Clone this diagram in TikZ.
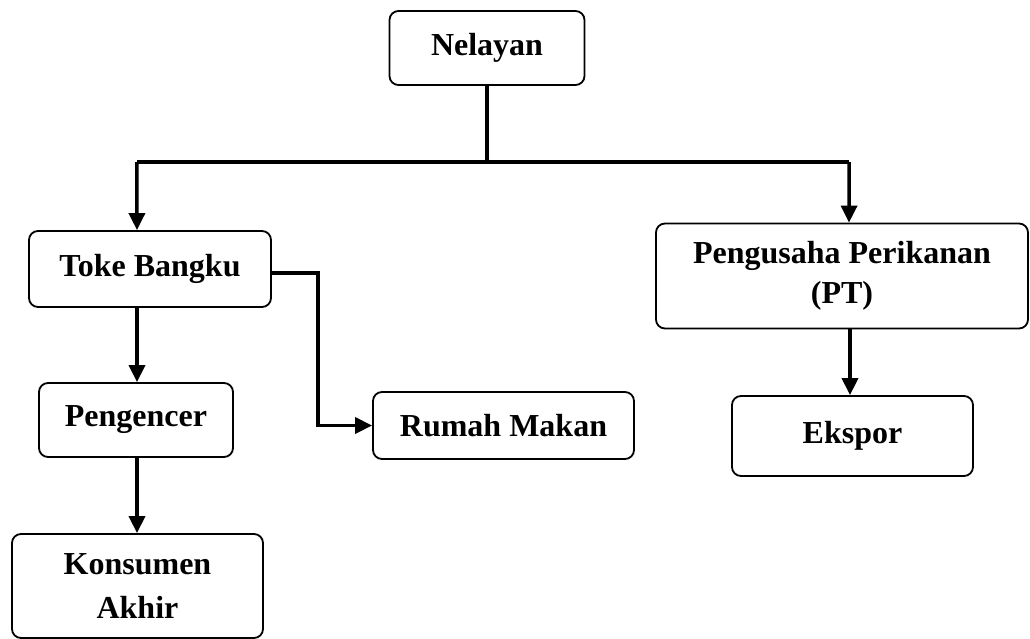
\documentclass[tikz,border=0pt]{standalone}
\usepackage{fontspec}
\setmainfont{Liberation Serif}
\usetikzlibrary{arrows.meta}
\begin{document}
\begin{tikzpicture}[x=1pt,y=1pt,
  box/.style={draw=black, line width=1.8pt, rounded corners=9pt, fill=white,
    align=center, inner sep=0pt,
    font=\fontsize{32}{42}\selectfont\bfseries},
  conn/.style={line width=3.5pt, line join=miter},
  arr/.style={conn, -{Triangle[length=17pt,width=16pt]}}]
\useasboundingbox (0,0) rectangle (1030,-639);

\node[box, minimum width=195pt, minimum height=74pt] (nel) at (487,-48) {Nelayan};
\node[box, minimum width=242pt, minimum height=76pt] (toke) at (150,-269) {Toke Bangku};
\node[box, minimum width=372pt, minimum height=105pt, font=\fontsize{32}{40}\selectfont\bfseries] (peng) at (842,-276) {Pengusaha Perikanan\\(PT)};
\node[box, minimum width=194pt, minimum height=74pt] (pengc) at (136,-420) {Pengencer};
\node[box, minimum width=261pt, minimum height=67pt] (rumah) at (503.5,-425.5) {Rumah Makan};
\node[box, minimum width=241pt, minimum height=80pt] (eks) at (852.5,-436) {Ekspor};
\node[box, minimum width=251pt, minimum height=104pt, font=\fontsize{32}{44}\selectfont\bfseries] (kons) at (137.5,-586) {Konsumen\\Akhir};

\coordinate (jL) at (137,-162);
\coordinate (jR) at (849,-162);
\coordinate (k) at (318,-273);

\draw[conn] (nel.south) -- (nel.south |- jL);
\draw[conn] (jL) -- (jR);
\draw[arr] ([xshift=-0.2pt]jL) -- (jL |- toke.north);
\draw[arr] ([xshift=0.2pt]jR) -- (jR |- peng.north);
\draw[arr] (toke.east |- k) -- (k) -- (k |- rumah.west) -- (rumah.west);
\draw[arr] (jL |- toke.south) -- (jL |- pengc.north);
\draw[arr] (jL |- pengc.south) -- (jL |- kons.north);
\draw[arr] (850,0 |- peng.south) -- (850,0 |- eks.north);
\end{tikzpicture}
\end{document}
